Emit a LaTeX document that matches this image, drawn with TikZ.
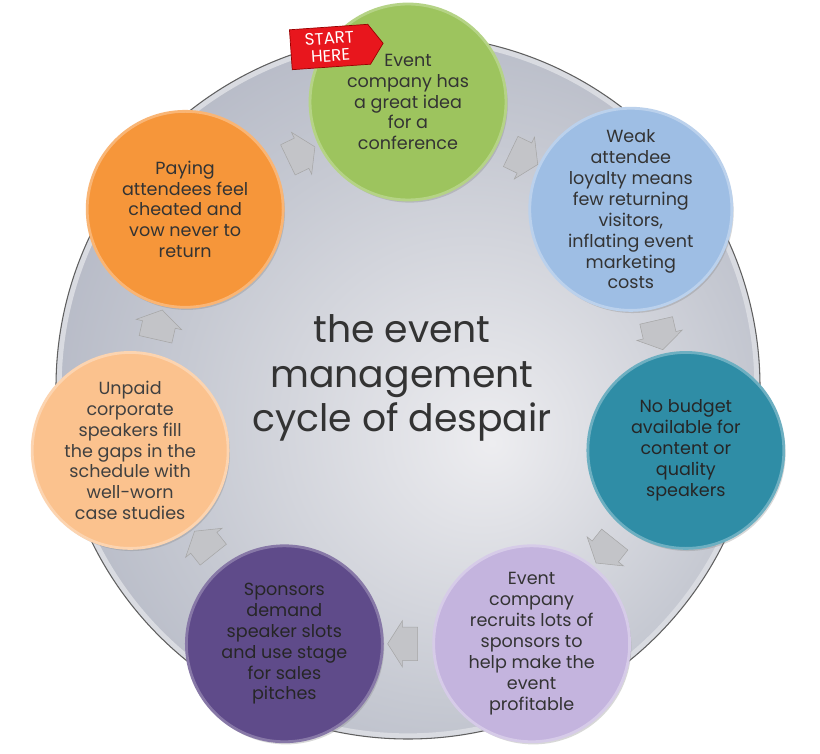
\documentclass[tikz,border=0pt]{standalone}
\usepackage{fontspec}
\setmainfont{Poppins}
\usepackage{xcolor}
\usepackage{tikz}
\usetikzlibrary{calc,shapes,shapes.arrows,shapes.symbols,positioning,shadows}

\definecolor{ideagreen}{HTML}{9DC45E}
\definecolor{loyalblue}{HTML}{9EBEE4}
\definecolor{budgetteal}{HTML}{2F8DA6}
\definecolor{sponslilac}{HTML}{C4B4DE}
\definecolor{pitchpurple}{HTML}{5F4B8A}
\definecolor{unpaidpeach}{HTML}{FBC28E}
\definecolor{payorange}{HTML}{F6963A}
\definecolor{flagred}{HTML}{E8161D}
\definecolor{turngray}{HTML}{C3C4C8}
\definecolor{diskhi}{HTML}{EDEDF0}
\definecolor{diskmid}{HTML}{C6C9D2}
\definecolor{disklo}{HTML}{A0A5B6}
\definecolor{diskrim}{HTML}{D9DBE1}

\pgfdeclareradialshading{disksheen}{\pgfpoint{6bp}{-4bp}}{color(0bp)=(diskhi); color(20bp)=(diskmid); color(42bp)=(disklo); color(50bp)=(disklo)}

\tikzset{
  stage/.style={circle, minimum size=3.92cm, inner sep=0pt, align=center,
    font=\fontsize{10}{11.9}\selectfont, line width=1.6pt,
    drop shadow={opacity=0.3, shadow xshift=1pt, shadow yshift=-1.5pt}},
  turn/.style={single arrow, minimum height=0.6cm, inner xsep=0pt, inner ysep=0.33cm,
    single arrow head extend=0.13cm, single arrow tip angle=115,
    fill=turngray, draw=gray!70, line width=0.3pt},
}

\begin{document}
\begin{tikzpicture}[x=0.02cm,y=0.02cm]
  \useasboundingbox (-408,-366) rectangle (412,387);
  \fill[white] (-408,-366) rectangle (412,387);

  % big disk
  \shade[shading=disksheen] (0,0) circle (352);
  \draw[diskrim, line width=3pt] (0,0) circle (349);
  \draw[gray!75!black, line width=0.6pt] (0,0) circle (352);

  \node[font=\fontsize{21.5}{25.5}\selectfont, align=center, text=black!80] (title) at (-6,9)
    {the event\\management\\cycle of despair};

  \node[stage, fill=ideagreen, draw=ideagreen!75!white, text=black!80] (s_0) at (90:285)
    {Event\\company has\\a great idea\\for a\\conference};
  \node[stage, fill=loyalblue, draw=loyalblue!70!white, text=black!80] (s_1) at (38.57:285)
    {Weak\\attendee\\loyalty means\\few returning\\visitors,\\inflating event\\marketing\\costs};
  \node[stage, fill=budgetteal, draw=budgetteal!70!white, text=black!85] (s_2) at (-12.86:285)
    {No budget\\available for\\content or\\quality\\speakers};
  \node[stage, fill=sponslilac, draw=sponslilac!70!white, text=black!80] (s_3) at (-64.29:285)
    {Event\\company\\recruits lots of\\sponsors to\\help make the\\event\\profitable};
  \node[stage, fill=pitchpurple, draw=pitchpurple!75!white, text=black!85] (s_4) at (-115.71:285)
    {Sponsors\\demand\\speaker slots\\and use stage\\for sales\\pitches};
  \node[stage, fill=unpaidpeach, draw=unpaidpeach!70!white, text=black!75] (s_5) at (-167.14:285)
    {Unpaid\\corporate\\speakers fill\\the gaps in the\\schedule with\\well-worn\\case studies};
  \node[stage, fill=payorange, draw=payorange!70!white, text=black!80] (s_6) at (141.43:285)
    {Paying\\attendees feel\\cheated and\\vow never to\\return};

  % turning arrows
  \node[turn, rotate=-25.71] (a_0) at ($(s_0)!0.5!(s_1)$) {};
  \node[turn, rotate=-77.14] (a_1) at ($(s_1)!0.5!(s_2)$) {};
  \node[turn, rotate=-128.57] (a_2) at ($(s_2)!0.5!(s_3)$) {};
  \node[turn, rotate=-180] (a_3) at ($(s_3)!0.5!(s_4)$) {};
  \node[turn, rotate=-231.43] (a_4) at ($(s_4)!0.5!(s_5)$) {};
  \node[turn, rotate=-282.86] (a_5) at ($(s_5)!0.5!(s_6)$) {};
  \node[turn, rotate=-334.29] (a_6) at ($(s_6)!0.5!(s_0)$) {};

  \node[signal, signal to=east, signal pointer angle=110, fill=flagred, draw=red!60!black,
    line width=0.4pt, text=white, align=center, font=\fontsize{9.5}{10}\selectfont,
    minimum width=1.85cm, minimum height=0.8cm, inner sep=1pt, rotate=4] (start) at (-78,340)
    {START\\HERE};
\end{tikzpicture}
\end{document}
